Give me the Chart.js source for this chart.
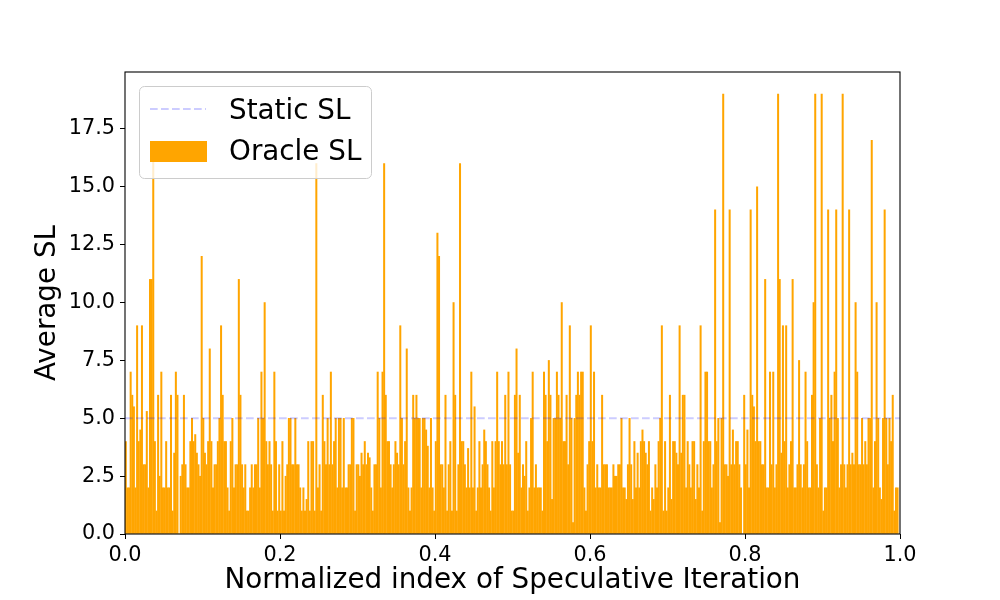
<!DOCTYPE html>
<html>
<head>
<meta charset="utf-8">
<script src="https://cdn.jsdelivr.net/npm/chart.js@4.4.1/dist/chart.umd.min.js"></script>
<style>
  body { margin: 0; background: #fff; }
  #wrap { width: 1000px; height: 600px; }
</style>
</head>
<body>
<div id="wrap"><canvas id="chart" width="1000" height="600"></canvas></div>
<script>
// Oracle SL per speculative iteration left to right
var oracleSeg1 = [4, 2, 2, 7, 6, 5.5, 2, 9, 4, 4.5, 9, 3, 3, 5.3, 2, 11, 11, 16.5, 4, 1, 6, 2.5, 7, 2, 2, 4, 2, 2, 6, 1, 3.5, 7, 6, 0, 2.5, 3, 6, 3, 2, 2, 4, 5, 4, 4.3, 3.5, 3, 2.5, 12, 5, 3.5, 3, 4, 8, 4, 2, 3, 3, 4, 5, 9];
var oracleSeg2 = [6, 4, 4, 2, 1, 4, 5, 2, 3, 3, 11, 6, 3, 2, 3, 1, 1, 2, 3, 2, 3, 3, 5, 2, 7, 5, 10, 4, 3, 4, 3, 1, 7, 4, 1, 3, 1, 4, 1, 2.5, 3, 5, 5, 3, 3, 5, 3, 3, 2, 1, 2, 1, 1.5, 4, 1, 4, 4, 1, 16, 2];
var oracleSeg3 = [3, 1, 6, 4, 3, 5, 3, 7, 3, 4, 5, 2, 5, 5, 2, 5, 2, 2, 3, 3, 5, 5, 1, 3, 3, 2.5, 3.5, 3, 4, 3, 3.5, 3.3, 2, 1, 3, 3, 7, 5, 2, 7, 16, 6, 4, 4, 3, 2, 3, 4, 3.5, 3, 9, 5, 3, 4, 8, 2, 1, 2, 6, 5];
var oracleSeg4 = [6, 5, 5, 2, 5, 5, 4.5, 3.8, 2, 5, 2, 1, 4, 13, 12, 3, 3, 2, 6, 1, 3, 4, 1, 10, 6, 1, 3, 16, 4, 4, 3, 2, 3.7, 2, 7, 2, 5.5, 1, 2, 4, 2, 3, 4.5, 4, 3, 2, 1, 4, 2, 4, 7, 4, 3, 4, 3, 6, 3, 7, 3, 1];
var oracleSeg5 = [1, 6, 8, 3.5, 6, 2, 3, 2.5, 4, 1, 2, 5, 7, 2, 3, 2, 2, 2, 1, 7, 6, 4, 7.5, 6, 1.5, 5, 5, 7, 6, 5, 10, 4, 4, 6, 3, 9, 5, 0.5, 5, 6, 7, 6, 7, 7, 2, 1, 3, 4, 9, 4, 7, 2, 3, 2, 2, 6, 3, 3, 3, 2];
var oracleSeg6 = [2, 2, 3, 2.5, 2.5, 3, 3, 5, 2, 2, 1.5, 3, 5, 3, 1.5, 4, 2, 3.5, 2, 4, 4.5, 4, 3.5, 3, 4, 1, 2, 1.5, 3, 2, 4, 5, 9, 1, 4, 1, 2, 6, 1.5, 4, 4, 3.5, 3, 9, 3.5, 6, 6, 2, 4, 3, 2, 4, 4, 1.5, 3, 2, 9, 1, 4, 7];
var oracleSeg7 = [7, 4, 4, 2, 3, 14, 4, 5, 0.5, 5, 19, 3, 3, 2.5, 14, 3, 4.5, 3, 4, 4, 3, 2, 0, 6, 3, 4.5, 2, 14, 6, 5.5, 4, 15, 4, 4, 3, 3, 11, 2, 2, 7, 3, 7, 2, 3, 19, 11, 3.5, 9, 4, 9, 2, 3, 4, 11, 2, 2, 3, 7.5, 3, 2];
var oracleSeg8 = [3, 7, 4, 2, 2, 6, 10, 19, 3, 2, 5, 19, 1, 2, 2, 14, 5, 6, 4, 7, 14, 5, 2, 3, 19, 3, 2, 3, 14, 3, 3.5, 3, 10, 7, 3, 3, 5, 3, 4, 3, 5, 5, 17, 2, 4, 10, 5, 2, 1.5, 5, 14, 5, 3, 5, 4, 6, 1, 2, 2];
var staticSL = 5;
var totalIterations = 480;
var seriesLabels = ['Static SL', 'Oracle SL'];
var xTicks = [0, 0.2, 0.4, 0.6, 0.8, 1.0];
var yTicks = [0, 2.5, 5, 7.5, 10, 12.5, 15, 17.5];

var oracleSL = [].concat(oracleSeg1, oracleSeg2, oracleSeg3, oracleSeg4,
                         oracleSeg5, oracleSeg6, oracleSeg7, oracleSeg8);

// bar i sits at its normalized index
var oracleData = oracleSL.map(function (v, i) {
    return {x: (i + 0.5) / totalIterations, y: v};
});
var staticData = [{x: 0, y: staticSL}, {x: 1, y: staticSL}];

var lineColor = 'rgba(0, 0, 255, 0.2)';
var lineDash = [7.7, 3.3];
var fontFamily = '"DejaVu Sans", sans-serif';

Chart.defaults.font.family = fontFamily;
Chart.defaults.color = '#000';

// full axes frame plus a matplotlib style legend over the bars
var framePlugin = {
    id: 'frame',
    afterDatasetsDraw: function (chart) {
        var ctx = chart.ctx, ca = chart.chartArea;
        ctx.save();
        ctx.strokeStyle = '#000';
        ctx.lineWidth = 1.1;
        ctx.strokeRect(ca.left, ca.top, ca.right - ca.left, ca.bottom - ca.top);

        var x = ca.left + 14, y = ca.top + 14;
        ctx.beginPath();
        ctx.roundRect(x + 0.5, y + 0.5, 232, 92, 5);
        ctx.fillStyle = 'rgba(255, 255, 255, 0.8)';
        ctx.fill();
        ctx.strokeStyle = '#cccccc';
        ctx.lineWidth = 1;
        ctx.stroke();

        ctx.beginPath();
        ctx.setLineDash(lineDash);
        ctx.moveTo(x + 11, y + 23);
        ctx.lineTo(x + 67, y + 23);
        ctx.strokeStyle = lineColor;
        ctx.lineWidth = 2;
        ctx.stroke();
        ctx.setLineDash([]);

        ctx.fillStyle = 'orange';
        ctx.fillRect(x + 11, y + 55, 57, 21);

        ctx.fillStyle = '#000';
        ctx.font = '27.8px ' + fontFamily;
        ctx.textBaseline = 'alphabetic';
        ctx.textAlign = 'left';
        ctx.fillText(chart.data.datasets[0].label, x + 90, y + 33);
        ctx.fillText(chart.data.datasets[1].label, x + 90, y + 74);
        ctx.restore();
    }
};

var ctx = document.getElementById('chart').getContext('2d');
var chart = new Chart(ctx, {
    type: 'bar',
    data: {
        datasets: [{
            type: 'line',
            label: seriesLabels[0],
            data: staticData,
            borderColor: lineColor,
            borderWidth: 2,
            borderDash: lineDash,
            pointRadius: 0,
            fill: false,
            order: 0
        }, {
            type: 'bar',
            label: seriesLabels[1],
            data: oracleData,
            backgroundColor: 'orange',
            borderWidth: 0,
            barPercentage: 1.0,
            categoryPercentage: 1.0,
            inflateAmount: 0.2,
            order: 1
        }]
    },
    options: {
        responsive: false,
        animation: false,
        layout: {padding: {left: 0, top: 72, right: 100, bottom: 0}},
        plugins: {legend: {display: false}, tooltip: {enabled: false}},
        scales: {
            x: {
                type: 'linear',
                min: 0,
                max: 1,
                offset: false,
                grid: {display: true, drawOnChartArea: false, drawTicks: true, tickLength: 5, color: '#000', offset: false},
                border: {display: false},
                afterFit: function (s) { s.height = 66; },
                afterBuildTicks: function (s) { s.ticks = xTicks.map(function (v) { return {value: v}; }); },
                ticks: {
                    font: {size: 20.8},
                    padding: 4,
                    maxRotation: 0,
                    autoSkip: false,
                    callback: function (v) { return Number(v).toFixed(1); }
                },
                title: {display: true, text: 'Normalized index of Speculative Iteration', font: {size: 27.8}, padding: {top: 0, bottom: 3}}
            },
            y: {
                min: 0,
                max: 19.95,
                grid: {display: true, drawOnChartArea: false, drawTicks: true, tickLength: 5, color: '#000'},
                border: {display: false},
                afterFit: function (s) { s.width = 125; },
                afterBuildTicks: function (s) { s.ticks = yTicks.map(function (v) { return {value: v}; }); },
                ticks: {
                    font: {size: 20.8},
                    padding: 5,
                    callback: function (v) { return Number(v).toFixed(1); }
                },
                title: {display: true, text: 'Average SL', font: {size: 27.8}, padding: {top: 31, bottom: 0}}
            }
        }
    },
    plugins: [framePlugin]
});
</script>
</body>
</html>
